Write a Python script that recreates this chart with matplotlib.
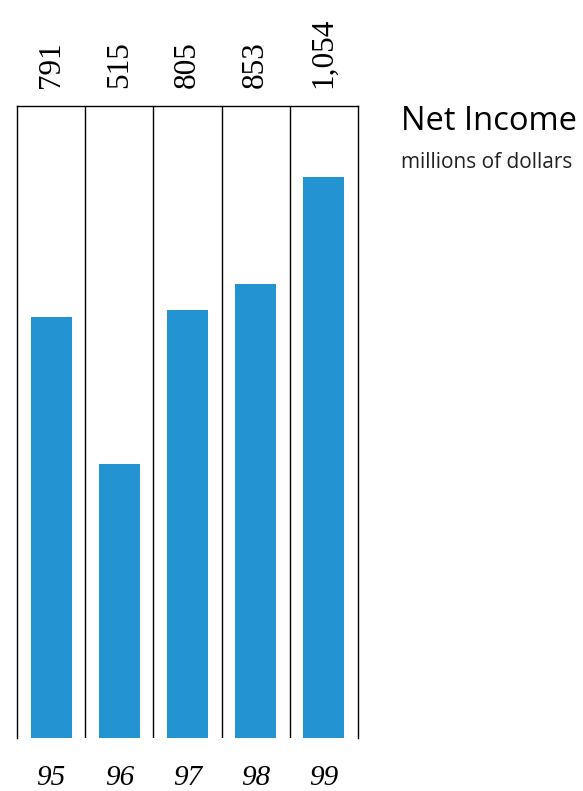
import matplotlib
matplotlib.use('Agg')
from matplotlib import pyplot as plt
from matplotlib import transforms

years = ['95', '96', '97', '98', '99']
net_income = [791, 515, 805, 853, 1054]
value_labels = ['791', '515', '805', '853', '1,054']

bar_color = '#2393d2'

fig = plt.figure(figsize=(5.83, 7.91), dpi=100)
W, H = 583, 791
# axes box in pixel terms: left 17, right 358, top 106, bottom 738
ax = fig.add_axes([17 / W, 1 - 738 / H, (358 - 17) / W, (738 - 106) / H])

x = list(range(len(years)))
ax.bar(x, net_income, width=0.6, color=bar_color, zorder=2)
ax.set_xlim(-0.5, len(years) - 0.5)
ax.set_ylim(0, 1188)

# cell separators
for sep in range(1, len(years)):
    ax.axvline(sep - 0.5, color='black', lw=1.0, zorder=1)

for side in ['left', 'right', 'top']:
    ax.spines[side].set_linewidth(1.0)
ax.spines['bottom'].set_visible(False)
ax.set_xticks([])
ax.set_yticks([])

trans = transforms.blended_transform_factory(ax.transData, ax.transAxes)
for i, (yr, lab) in enumerate(zip(years, value_labels)):
    ax.annotate(lab, xy=(i, 1.0), xycoords=trans, xytext=(0, 13),
                textcoords='offset points', rotation=90, ha='center', va='bottom',
                family='Liberation Serif', fontsize=22.5)
    ax.annotate(yr, xy=(i, 0.0), xycoords=trans, xytext=(0, -28.5),
                textcoords='offset points', ha='center', va='center',
                family='Liberation Serif', style='italic', fontsize=21)

fig.text(401 / W, 1 - 105 / H, 'Net Income', ha='left', va='top',
         family='Open Sans', fontsize=23.5)
fig.text(401 / W, 1 - 152 / H, 'millions of dollars', ha='left', va='top',
         family='Open Sans', fontsize=15, color='#222222')

fig.savefig('out.png', dpi=100)
